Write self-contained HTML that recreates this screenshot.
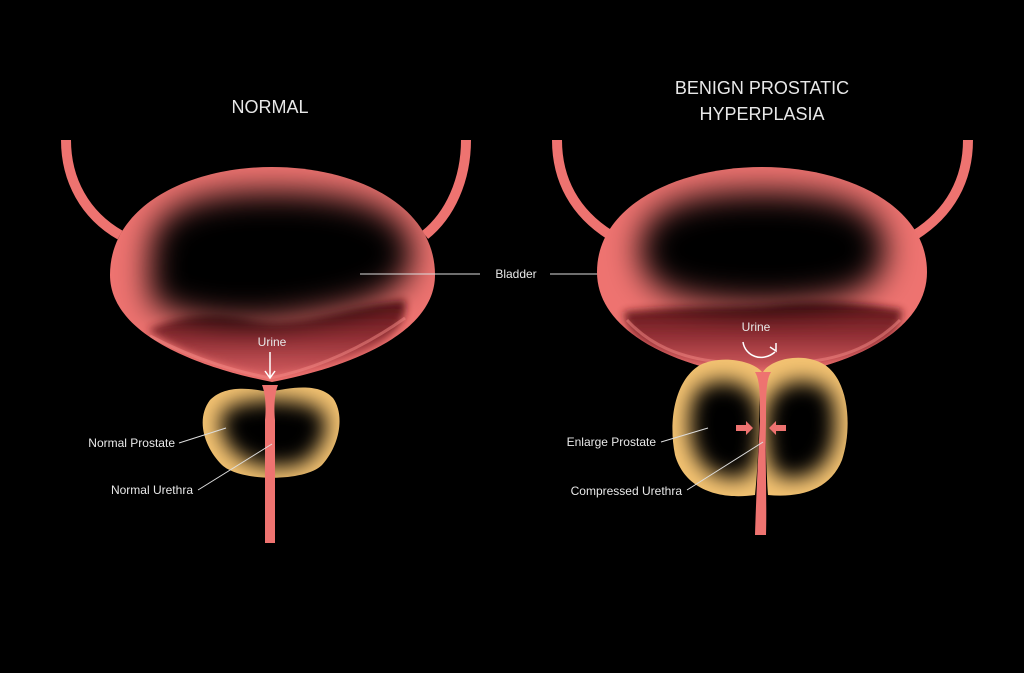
<!DOCTYPE html>
<html><head><meta charset="utf-8"><style>
html,body{margin:0;padding:0;background:#000;width:1024px;height:673px;overflow:hidden}
svg{display:block}
text{font-family:"Liberation Sans",sans-serif;fill:#e8e8e8}
</style></head><body>
<svg width="1024" height="673" viewBox="0 0 1024 673" xmlns="http://www.w3.org/2000/svg">
<defs>
<filter id="b20" x="-50%" y="-50%" width="200%" height="200%"><feGaussianBlur stdDeviation="16"/></filter>
<filter id="b12" x="-50%" y="-50%" width="200%" height="200%"><feGaussianBlur stdDeviation="10"/></filter>
<filter id="b4" x="-20%" y="-20%" width="140%" height="140%"><feGaussianBlur stdDeviation="4"/></filter>
<linearGradient id="ur" x1="0" y1="0" x2="0" y2="1">
<stop offset="0" stop-color="#4a0a0e"/><stop offset="0.5" stop-color="#8a2a30"/><stop offset="1" stop-color="#d05a5e"/>
</linearGradient>
<clipPath id="cL"><path d="M110,275 C110,205 190,167 272,167 C355,167 435,205 435,275 C435,335 345,368 272,382 C200,368 110,335 110,275 Z"/></clipPath>
<clipPath id="cR"><path d="M597,272 C597,205 678,167 762,167 C846,167 927,205 927,272 C927,335 840,370 762,378 C684,370 597,335 597,272 Z"/></clipPath>
<clipPath id="pL"><path d="M210,400 C225,385 250,388 268,392 C290,388 318,382 333,398 C345,415 340,445 322,465 C305,482 240,482 222,465 C205,448 195,420 210,400 Z"/></clipPath>
<clipPath id="pR1"><path d="M762,372 C752,360 720,355 700,365 C675,380 668,420 675,455 C685,490 720,500 755,495 C760,450 758,400 762,372 Z"/></clipPath>
<clipPath id="pR2"><path d="M763,372 C772,358 805,352 825,365 C850,382 852,430 842,460 C830,490 800,498 768,495 C765,450 766,400 763,372 Z"/></clipPath>
</defs>

<!-- LEFT -->
<path d="M66,140 C66,180 85,215 120,235" fill="none" stroke="#ee7370" stroke-width="10"/>
<path d="M466,140 C466,180 450,215 425,235" fill="none" stroke="#ee7370" stroke-width="10"/>
<g clip-path="url(#cL)">
<rect x="100" y="160" width="345" height="230" fill="#ee7370"/>
<path d="M148,330 C180,315 210,312 250,320 C300,330 350,305 405,300 C408,320 395,335 370,348 C335,365 300,372 272,376 C235,370 185,355 148,330 Z" fill="url(#ur)" opacity="0.92" filter="url(#b4)"/>
<path d="M150,255 C150,205 200,192 272,192 C345,192 412,205 412,255 C412,300 340,310 290,318 C240,325 180,320 150,300 Z" fill="#000" filter="url(#b20)"/>
<path d="M150,336 C200,362 240,372 270,378 C300,372 350,357 405,318" fill="none" stroke="#f48a85" stroke-width="3" opacity="0.5"/>
</g>
<g clip-path="url(#pL)">
<rect x="195" y="380" width="155" height="110" fill="#f3c271"/>
<path d="M225,410 C240,398 300,396 320,410 C335,425 318,460 295,465 C265,470 240,462 228,445 C220,432 218,418 225,410 Z" fill="#000" filter="url(#b12)"/>
</g>
<path d="M262,385 C266,395 266,410 265,420 L265,543 L275,543 L275,420 C274,410 274,395 278,385 Z" fill="#ee7370"/>
<path d="M270,352 L270,377 M265,371 L270,378 L275,371" stroke="#fff" stroke-width="1.5" fill="none"/>
<text x="272" y="346" font-size="12" text-anchor="middle">Urine</text>
<line x1="360" y1="274" x2="480" y2="274" stroke="#ddd" stroke-width="1"/>
<line x1="550" y1="274" x2="671" y2="274" stroke="#ddd" stroke-width="1"/>
<text x="516" y="278" font-size="12" text-anchor="middle">Bladder</text>
<text x="175" y="447" font-size="12" text-anchor="end">Normal Prostate</text>
<line x1="179" y1="443" x2="226" y2="428" stroke="#ddd" stroke-width="1"/>
<text x="193" y="494" font-size="12" text-anchor="end">Normal Urethra</text>
<line x1="198" y1="490" x2="272" y2="444" stroke="#ddd" stroke-width="1"/>
<text x="270" y="113" font-size="18" text-anchor="middle">NORMAL</text>

<!-- RIGHT -->
<path d="M557,140 C557,180 575,213 610,235" fill="none" stroke="#ee7370" stroke-width="10"/>
<path d="M968,140 C968,180 950,213 915,235" fill="none" stroke="#ee7370" stroke-width="10"/>
<g clip-path="url(#cR)">
<rect x="590" y="160" width="345" height="230" fill="#ee7370"/>
<path d="M624,312 C680,305 730,308 770,305 C820,300 860,302 902,310 C902,330 880,348 850,358 C820,366 790,368 762,370 C730,368 700,366 675,358 C645,348 626,332 624,312 Z" fill="url(#ur)" opacity="0.92" filter="url(#b4)"/>
<path d="M640,250 C640,205 690,192 762,192 C835,192 885,205 885,250 C885,295 830,302 762,304 C690,302 640,295 640,250 Z" fill="#000" filter="url(#b20)"/>
<path d="M627,320 C650,345 680,358 720,362 M805,362 C845,358 875,345 900,320" fill="none" stroke="#f48a85" stroke-width="3" opacity="0.5"/>
</g>
<g clip-path="url(#pR1)">
<rect x="665" y="350" width="100" height="155" fill="#f3c271"/>
<path d="M705,385 C730,375 760,385 760,420 C760,460 755,478 735,478 C705,478 690,455 690,425 C690,400 695,390 705,385 Z" fill="#000" filter="url(#b12)"/>
</g>
<g clip-path="url(#pR2)">
<rect x="760" y="350" width="100" height="155" fill="#f3c271"/>
<path d="M820,385 C795,375 766,385 766,420 C766,460 770,478 790,478 C820,478 835,455 835,425 C835,400 830,390 820,385 Z" fill="#000" filter="url(#b12)"/>
</g>
<path d="M755,372 C760,380 760,395 760,420 C758,460 756,500 755,535 L766,535 C767,500 765,460 766,420 C766,395 766,380 771,372 Z" fill="#ee7370"/>
<path d="M743,342 C745,356 762,363 775,352 M770,347 L776,351 L776,343" stroke="#fff" stroke-width="1.5" fill="none"/>
<text x="756" y="331" font-size="12" text-anchor="middle">Urine</text>
<path d="M736,425 L746,425 L746,421 L753,428 L746,435 L746,431 L736,431 Z" fill="#ee7370"/>
<path d="M786,425 L776,425 L776,421 L769,428 L776,435 L776,431 L786,431 Z" fill="#ee7370"/>
<text x="656" y="446" font-size="12" text-anchor="end">Enlarge Prostate</text>
<line x1="661" y1="442" x2="708" y2="428" stroke="#ddd" stroke-width="1"/>
<text x="682" y="495" font-size="12" text-anchor="end">Compressed Urethra</text>
<line x1="687" y1="490" x2="763" y2="442" stroke="#ddd" stroke-width="1"/>
<text x="762" y="94" font-size="18" text-anchor="middle">BENIGN PROSTATIC</text>
<text x="762" y="120" font-size="18" text-anchor="middle">HYPERPLASIA</text>
</svg>
</body></html>
